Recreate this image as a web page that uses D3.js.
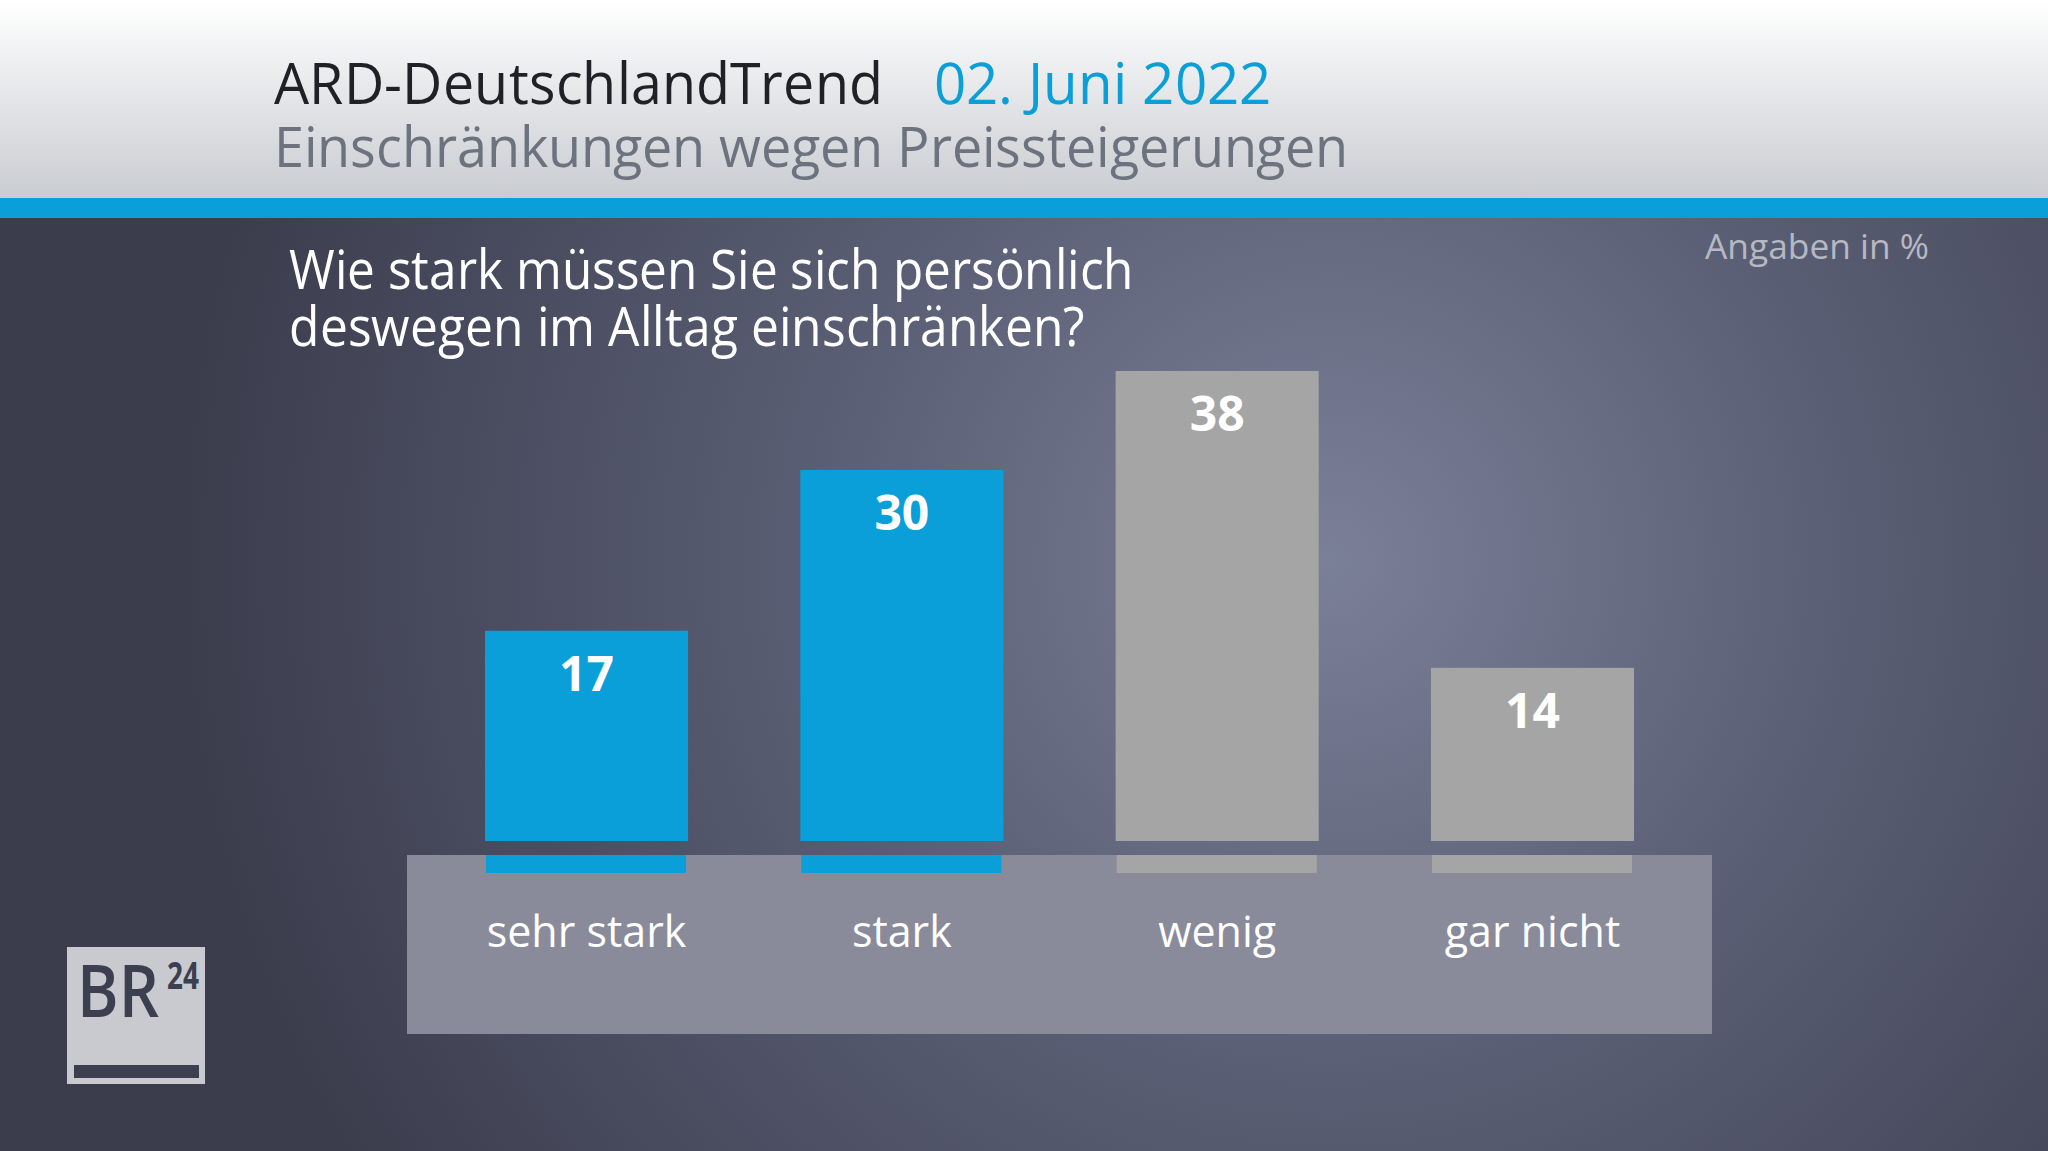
<!DOCTYPE html>
<html><head><meta charset="utf-8">
<script src="https://cdn.jsdelivr.net/npm/d3@7"></script>
<style>
@font-face{font-family:"OSTight";src:local("Open Sans Regular"),local("OpenSans-Regular"),local("Open Sans");font-weight:400;ascent-override:80%;descent-override:21%;line-gap-override:0%}
html,body{margin:0;padding:0;background:#3d3f4f;overflow:hidden}svg{display:block}
</style>
</head><body>
<script>
const categories = ["sehr stark", "stark", "wenig", "gar nicht"];
const values = [17, 30, 38, 14];
const groups = ["neg", "neg", "pos", "pos"];
const titleText = "ARD-DeutschlandTrend";
const dateText = "02. Juni 2022";
const subtitleText = "Einschränkungen wegen Preissteigerungen";
const questionLines = ["Wie stark müssen Sie sich persönlich", "deswegen im Alltag einschränken?"];
const unitText = "Angaben in %";

const W = 2048, H = 1151;
const FONT = "'Open Sans','Noto Sans',sans-serif";
const TIGHT = "OSTight,'Open Sans','Noto Sans',sans-serif";
const svg = d3.select("body").append("svg").attr("width", W).attr("height", H);
const defs = svg.append("defs");

const bg = defs.append("radialGradient").attr("id", "bg").attr("gradientUnits", "userSpaceOnUse")
  .attr("cx", 1330).attr("cy", 560).attr("r", 1150);
bg.append("stop").attr("offset", 0).attr("stop-color", "#7a8098");
bg.append("stop").attr("offset", 0.45).attr("stop-color", "#5a5e74");
bg.append("stop").attr("offset", 1).attr("stop-color", "#3b3d4d");

const hd = defs.append("linearGradient").attr("id", "hd").attr("x1", 0).attr("y1", 0).attr("x2", 0).attr("y2", 1);
hd.append("stop").attr("offset", 0).attr("stop-color", "#ffffff");
hd.append("stop").attr("offset", 1).attr("stop-color", "#c9ccd1");

svg.append("rect").attr("width", W).attr("height", H).attr("fill", "url(#bg)");
svg.append("rect").attr("width", W).attr("height", 198).attr("fill", "url(#hd)");
svg.append("rect").attr("y", 198).attr("width", W).attr("height", 20).attr("fill", "#0a9fd8");

// Header texts
svg.append("text").attr("x", 274).attr("y", 104).attr("font-family", TIGHT).attr("font-size", 58)
  .attr("fill", "#1f2126").attr("textLength", 609).attr("lengthAdjust", "spacingAndGlyphs").text(titleText);
svg.append("text").attr("x", 934).attr("y", 104).attr("font-family", TIGHT).attr("font-size", 58)
  .attr("fill", "#0a9fd8").attr("textLength", 337).attr("lengthAdjust", "spacingAndGlyphs").text(dateText);
svg.append("text").attr("x", 274).attr("y", 167).attr("font-family", TIGHT).attr("font-size", 56)
  .attr("fill", "#6c737e").attr("textLength", 1074).attr("lengthAdjust", "spacingAndGlyphs").text(subtitleText);

// Question
const qLens = [845, 796];
questionLines.forEach((t, i) => {
  svg.append("text").attr("x", 289).attr("y", 289 + i * 57).attr("font-family", TIGHT).attr("font-size", 55)
    .attr("fill", "#ffffff").attr("textLength", qLens[i]).attr("lengthAdjust", "spacingAndGlyphs").text(t);
});
svg.append("text").attr("x", 1929).attr("y", 259).attr("text-anchor", "end").attr("font-family", FONT)
  .attr("font-size", 35).attr("fill", "#b5b9c3").attr("textLength", 224).attr("lengthAdjust", "spacingAndGlyphs").text(unitText);

// Scales
const x = d3.scaleBand().domain(categories).range([485, 1634]).paddingInner(0.356).paddingOuter(0);
const y = d3.scaleLinear().domain([0, 38]).range([841, 371]);
const color = d3.scaleOrdinal().domain(["neg", "pos"]).range(["#0a9fd8", "#a5a5a5"]);

// Platform
svg.append("rect").attr("x", 407).attr("y", 855).attr("width", 1305).attr("height", 179).attr("fill", "#898b9b");

const data = categories.map((c, i) => ({c, v: values[i], g: groups[i]}));

svg.append("g").selectAll("rect").data(data).join("rect")
  .attr("x", d => x(d.c)).attr("y", d => y(d.v))
  .attr("width", x.bandwidth()).attr("height", d => y(0) - y(d.v))
  .attr("fill", d => color(d.g));

svg.append("g").selectAll("rect").data(data).join("rect")
  .attr("x", d => x(d.c) + 1).attr("y", 855)
  .attr("width", x.bandwidth() - 3).attr("height", 18)
  .attr("fill", d => color(d.g));

svg.append("g").selectAll("text").data(data).join("text")
  .attr("x", d => x(d.c) + x.bandwidth() / 2).attr("y", d => y(d.v) + 60)
  .attr("text-anchor", "middle").attr("font-family", FONT).attr("font-weight", 700)
  .attr("font-size", 48).attr("fill", "#ffffff").text(d => d.v);

svg.append("g").selectAll("text").data(data).join("text")
  .attr("x", d => x(d.c) + x.bandwidth() / 2).attr("y", 947)
  .attr("text-anchor", "middle").attr("font-family", FONT)
  .attr("font-size", 43).attr("fill", "#ffffff").text(d => d.c);

// Logo
const lg = svg.append("g");
lg.append("rect").attr("x", 67).attr("y", 947).attr("width", 138).attr("height", 137).attr("fill", "#c9cacf");
lg.append("text").attr("x", 77).attr("y", 1017).attr("font-family", FONT).attr("font-weight", 600).attr("font-size", 72)
  .attr("fill", "#3c3f4f").attr("textLength", 82).attr("lengthAdjust", "spacingAndGlyphs").text("BR");
lg.append("text").attr("x", 167).attr("y", 989).attr("font-family", FONT).attr("font-weight", 700).attr("font-size", 38)
  .attr("fill", "#3c3f4f").attr("textLength", 32).attr("lengthAdjust", "spacingAndGlyphs").text("24");
lg.append("rect").attr("x", 74).attr("y", 1065).attr("width", 125).attr("height", 13).attr("fill", "#3c3f4f");
</script>
</body></html>
